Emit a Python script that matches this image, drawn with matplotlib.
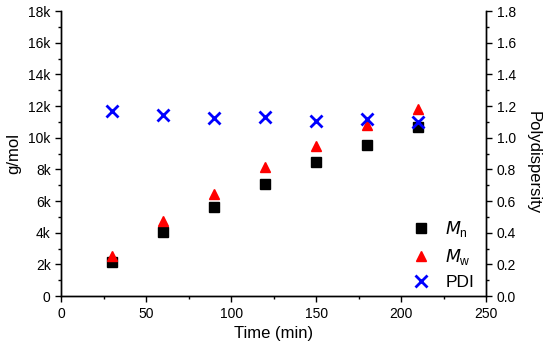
import matplotlib
matplotlib.use("Agg")
from matplotlib import pyplot as plt
from matplotlib.ticker import MultipleLocator, FuncFormatter

plt.rcParams['font.family'] = ['Liberation Sans', 'DejaVu Sans']

# data
time = [30, 60, 90, 120, 150, 180, 210]
mn = [2130, 4060, 5640, 7110, 8460, 9560, 10670]
mw = [2530, 4740, 6440, 8140, 9510, 10820, 11830]
pdi = [1.17, 1.143, 1.126, 1.13, 1.109, 1.12, 1.099]

fig = plt.figure(figsize=(5.5, 3.48), dpi=100)
ax = fig.add_axes([0.111, 0.149, 0.773, 0.819])
ax2 = ax.twinx()

h1, = ax.plot(time, mn, 's', color='black', markersize=6.5, linestyle='none', label='$M_\\mathregular{n}$')
h2, = ax.plot(time, mw, '^', color='red', markersize=6.5, linestyle='none', label='$M_\\mathregular{w}$')
h3, = ax2.plot(time, pdi, 'x', color='blue', markersize=8, markeredgewidth=2, linestyle='none', label='PDI')

ax.set_xlim(0, 250)
ax.set_ylim(0, 18000)
ax2.set_ylim(0, 1.8)

ax.xaxis.set_major_locator(MultipleLocator(50))
ax.xaxis.set_minor_locator(MultipleLocator(25))
ax.yaxis.set_major_locator(MultipleLocator(2000))
ax.yaxis.set_minor_locator(MultipleLocator(1000))
ax.yaxis.set_major_formatter(FuncFormatter(lambda v, p: '0' if v == 0 else '%dk' % (v / 1000)))
ax2.yaxis.set_major_locator(MultipleLocator(0.2))
ax2.yaxis.set_minor_locator(MultipleLocator(0.1))
ax2.yaxis.set_major_formatter(FuncFormatter(lambda v, p: '%.1f' % v))

for a in (ax, ax2):
    a.tick_params(which='major', direction='out', length=4, width=1, labelsize=10)
    a.tick_params(which='minor', direction='out', length=2.5, width=1)
    for s in a.spines.values():
        s.set_linewidth(1)
ax.spines['top'].set_visible(False)
ax2.spines['top'].set_visible(False)
ax.tick_params(axis='x', which='both', top=False)

ax.set_xlabel('Time (min)', fontsize=12, labelpad=4)
ax.set_ylabel('g/mol', fontsize=12, labelpad=5)
ax2.set_ylabel('Polydispersity', fontsize=12, rotation=270, labelpad=16)
ax2.yaxis.set_label_coords(1.128, 0.47)

ax2.legend(handles=[h1, h2, h3], loc='lower right', bbox_to_anchor=(1.0, -0.02),
           frameon=False, fontsize=12.5, handletextpad=0.4, borderaxespad=0.3,
           labelspacing=0.45)

fig.savefig('out.png', dpi=100)
